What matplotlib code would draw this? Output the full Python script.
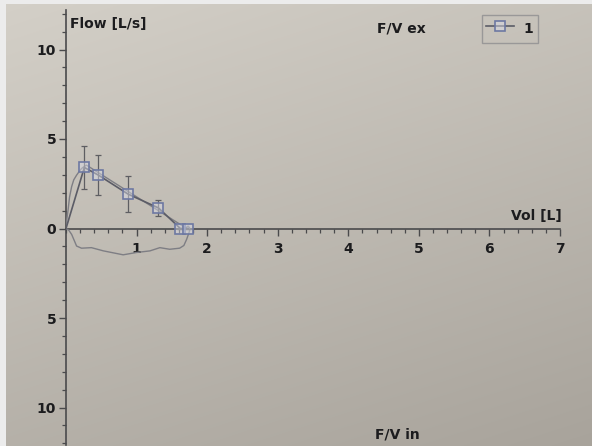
import numpy as np
import matplotlib
matplotlib.use("Agg")
import matplotlib.pyplot as plt
from matplotlib.lines import Line2D
from matplotlib.ticker import MultipleLocator, FixedLocator, FixedFormatter

plt.rcParams["font.family"] = ["DejaVu Sans"]
plt.rcParams["font.weight"] = "bold"

# Mean flow-volume points (series "1") with their spread
vol_pts = [0.26, 0.46, 0.88, 1.31, 1.62, 1.73]
flow_pts = [3.41, 2.98, 1.92, 1.15, 0.0, 0.0]
flow_err = [1.2, 1.1, 1.0, 0.45, 0.0, 0.0]

# Recorded expiratory limb of the loop
exp_vol = [0.0, 0.01, 0.03, 0.05, 0.08, 0.11, 0.15, 0.19, 0.22, 0.26, 0.29, 1.71]
exp_flow = [0.0, 0.45, 1.05, 1.75, 2.34, 2.72, 2.98, 3.2, 3.35, 3.47, 3.54, 0.0]

# Recorded inspiratory limb of the loop
insp_vol = [0.0, 0.04, 0.08, 0.12, 0.15, 0.22, 0.36, 0.53, 0.81, 1.0, 1.19,
            1.33, 1.47, 1.61, 1.67, 1.71, 1.75, 1.75, 1.73, 1.70]
insp_flow = [0.0, -0.1, -0.33, -0.7, -0.98, -1.1, -1.07, -1.25, -1.47, -1.34,
             -1.25, -1.07, -1.16, -1.1, -0.95, -0.6, -0.15, 0.05, 0.13, 0.05]

x_ticks = [1, 2, 3, 4, 5, 6, 7]
y_ticks = [-10, -5, 0, 5, 10]
y_tick_labels = ["10", "5", "0", "5", "10"]

W, H = 592, 446
fig = plt.figure(figsize=(W / 100, H / 100), dpi=100)

# paper background, lighter towards the top left
yy, xx = np.mgrid[0:H, 0:W]
t = 0.7 * yy / H + 0.3 * xx / W
top = np.array([212, 208, 200]) / 255.0
bot = np.array([168, 163, 155]) / 255.0
img = top[None, None, :] * (1 - t[..., None]) + bot[None, None, :] * t[..., None]
img[:, :6, :] = np.array([236, 236, 236]) / 255.0
img[:4, :, :] = np.array([236, 236, 236]) / 255.0
bg = fig.add_axes([0, 0, 1, 1], zorder=-10)
bg.imshow(img, aspect="auto", interpolation="nearest")
bg.set_axis_off()

y0px, scale = 228.5, 17.9
ax = fig.add_axes([66 / W, 1 / H, 494 / W, 435 / H], zorder=1)
ax.patch.set_alpha(0)
ax.set_xlim(0, 7)
ax.set_ylim(-(445 - y0px) / scale, (y0px - 10) / scale)

axis_col = "#4a4a4c"
for side in ("top", "right"):
    ax.spines[side].set_visible(False)
ax.spines["left"].set_position(("data", 0))
ax.spines["bottom"].set_position(("data", 0))
for side in ("left", "bottom"):
    ax.spines[side].set_color(axis_col)
    ax.spines[side].set_linewidth(1.2)

ax.xaxis.set_major_locator(FixedLocator(x_ticks))
ax.xaxis.set_minor_locator(MultipleLocator(0.2))
ax.yaxis.set_major_locator(FixedLocator(y_ticks))
ax.yaxis.set_major_formatter(FixedFormatter(y_tick_labels))
ax.yaxis.set_minor_locator(MultipleLocator(1))

txt_col = "#1c1c1e"
ax.tick_params(axis="x", which="major", direction="out", length=5, width=1,
               color=axis_col, pad=5, labelsize=10, labelcolor=txt_col)
ax.tick_params(axis="x", which="minor", direction="out", length=3, width=0.9,
               color=axis_col)
ax.tick_params(axis="y", which="major", direction="out", length=5, width=1,
               color=axis_col, pad=2, labelsize=10, labelcolor=txt_col)
ax.tick_params(axis="y", which="minor", direction="out", length=3, width=0.9,
               color=axis_col)

curve_col = "#7e7e84"
line_col = "#5b5c66"
mark_col = "#6d78a2"

ax.plot(exp_vol, exp_flow, color=curve_col, lw=1.0, zorder=3)
ax.plot(insp_vol, insp_flow, color=curve_col, lw=1.0, zorder=3)

ax.plot([0] + vol_pts, [0] + flow_pts, color=line_col, lw=1.2, zorder=4)
ax.errorbar(vol_pts, flow_pts, yerr=flow_err, fmt="none", ecolor="#5e5e62",
            elinewidth=0.9, capsize=2.5, capthick=0.9, zorder=4)
ax.plot(vol_pts, flow_pts, linestyle="none", marker="s", markersize=7.5,
        markeredgecolor=mark_col, markeredgewidth=1.2,
        markerfacecolor=(0.86, 0.87, 0.92, 0.45), zorder=5)

handle = Line2D([], [], color=line_col, lw=1.2, marker="s", markersize=7.5,
                markeredgecolor=mark_col, markeredgewidth=1.2,
                markerfacecolor=(0.86, 0.87, 0.92, 0.45))
leg = ax.legend([handle], ["1"], loc="upper left",
                bbox_to_anchor=(482 / W, 1 - 15 / H),
                bbox_transform=fig.transFigure, frameon=True, fancybox=False,
                fontsize=10, handlelength=2.0, handleheight=1.8,
                handletextpad=0.7, borderpad=0.3, borderaxespad=0)
leg.get_frame().set_edgecolor("#8e8e90")
leg.get_frame().set_facecolor("none")
leg.get_frame().set_linewidth(1.0)
for tx in leg.get_texts():
    tx.set_color(txt_col)

def ftext(x, y, s, ha="left"):
    fig.text(x / W, 1 - y / H, s, ha=ha, va="center", fontsize=10,
             fontweight="bold", color=txt_col)

ftext(70, 24.5, "Flow [L/s]")
ftext(377, 28.5, "F/V ex")
ftext(375, 435, "F/V in")
ftext(562, 216.5, "Vol [L]", ha="right")

fig.savefig("out.png", dpi=100)
